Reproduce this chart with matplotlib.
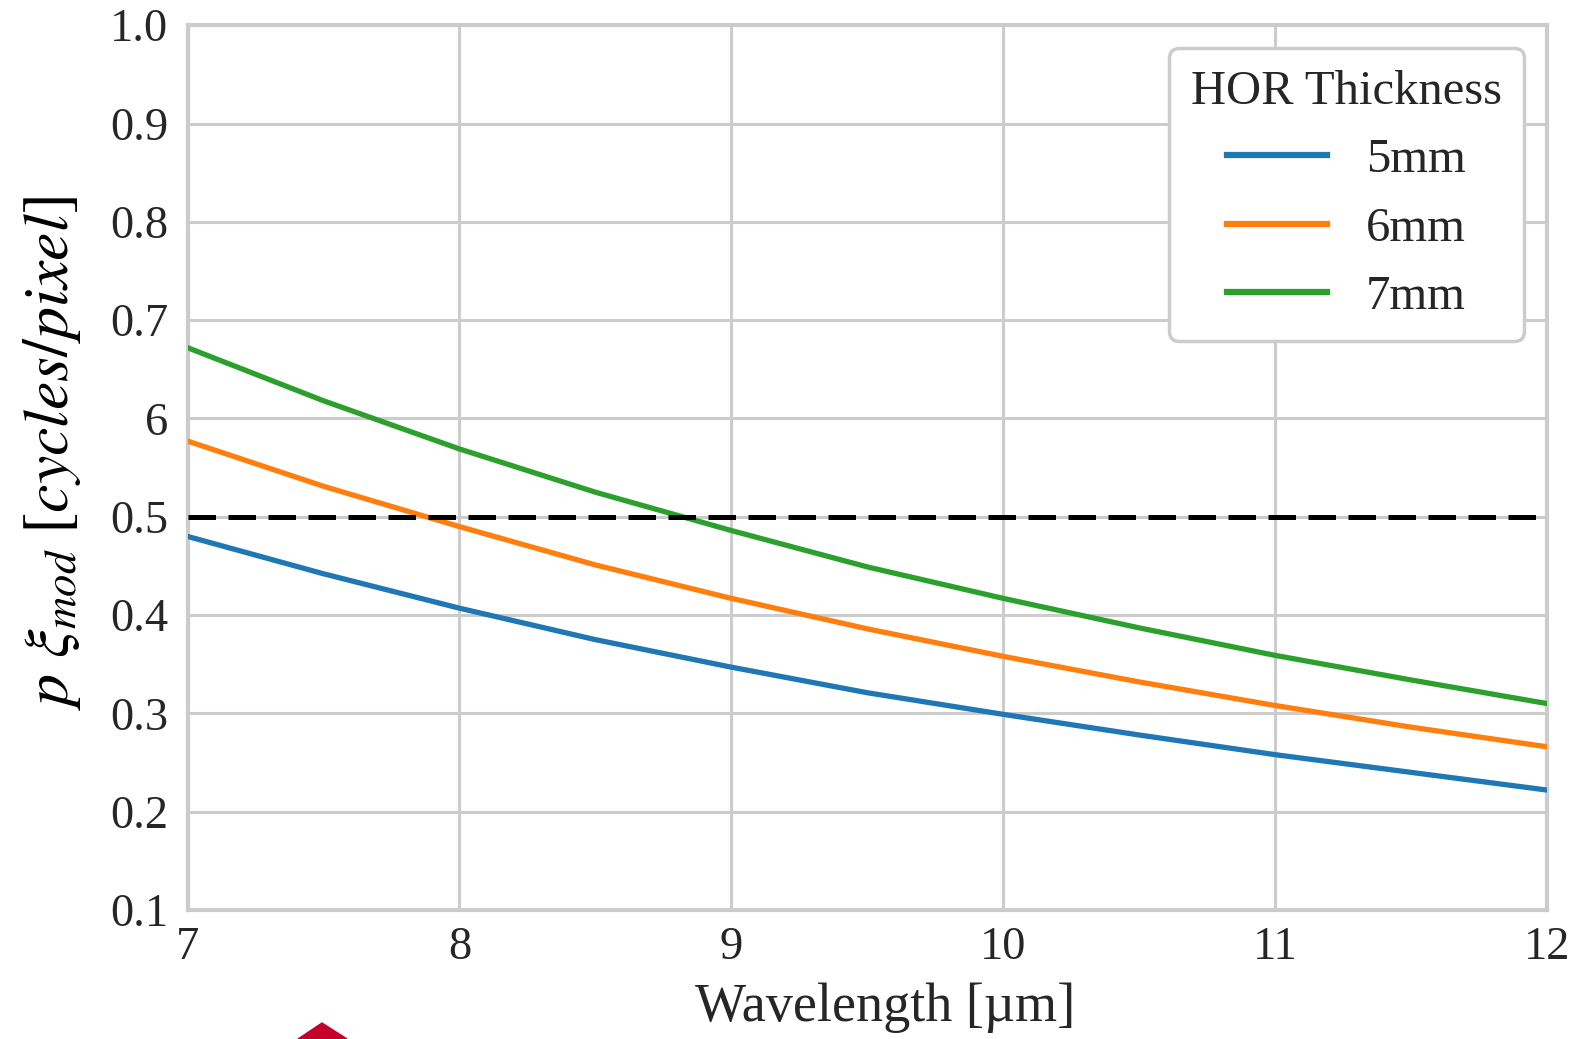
#!/usr/bin/env python3
# -*- coding: utf-8 -*-
"""
Modulation frequency vs wavelength for three HOR thicknesses
"""

import matplotlib
matplotlib.use('Agg')
import matplotlib.pyplot as plt
from matplotlib.patches import Polygon

plt.rcParams['font.family'] = ['Liberation Serif', 'DejaVu Serif']
plt.rcParams['mathtext.fontset'] = 'stix'

# wavelength in um
wavelength = [7.0, 7.5, 8.0, 8.5, 9.0, 9.5, 10.0, 10.5, 11.0, 11.5, 12.0]

# values
hor_5mm = [0.480, 0.442, 0.407, 0.375, 0.347, 0.321, 0.299, 0.278, 0.258, 0.240, 0.222]
hor_6mm = [0.577, 0.531, 0.490, 0.451, 0.417, 0.386, 0.358, 0.332, 0.308, 0.286, 0.266]
hor_7mm = [0.672, 0.618, 0.569, 0.525, 0.486, 0.449, 0.417, 0.387, 0.359, 0.334, 0.310]

series_labels = ['5mm', '6mm', '7mm']
series_colors = ['#1f77b4', '#ff7f0e', '#2ca02c']

x_ticks = [7, 8, 9, 10, 11, 12]
y_ticks = [0.1, 0.2, 0.3, 0.4, 0.5, 0.6, 0.7, 0.8, 0.9, 1.0]
y_tick_labels = ['0.1', '0.2', '0.3', '0.4', '0.5', '6', '0.7', '0.8', '0.9', '1.0']
threshold = 0.5

GRID = '#cccccc'
TEXT = '#262626'

fig = plt.figure(figsize=(15.8, 10.39), dpi=100)
ax = fig.add_axes([0.1187, 0.1242, 0.979 - 0.1187, 0.9757 - 0.1242])

for vals, lab, col in zip([hor_5mm, hor_6mm, hor_7mm], series_labels, series_colors):
    ax.plot(wavelength, vals, color=col, linewidth=3.8, label=lab, zorder=3,
            solid_joinstyle='round')

ax.axhline(threshold, color='black', linestyle=(0, (5.5, 2.5)), linewidth=3.6, zorder=4)

ax.set_xlim(7, 12)
ax.set_ylim(0.1, 1.0)
ax.set_xticks(x_ticks)
ax.set_xticklabels([str(t) for t in x_ticks])
ax.set_yticks(y_ticks)
ax.set_yticklabels(y_tick_labels)

ax.grid(True, color=GRID, linewidth=2.2)
ax.set_axisbelow(True)
for sp in ax.spines.values():
    sp.set_color(GRID)
    sp.set_linewidth(3)

ax.tick_params(axis='both', length=0, labelsize=33.5, colors=TEXT)
ax.tick_params(axis='y', pad=14)
ax.tick_params(axis='x', pad=12)

ax.set_xlabel('Wavelength [µm]', fontsize=39, color=TEXT)
ax.xaxis.set_label_coords(0.513, -0.082)
ax.set_ylabel(r'$p\ \xi_{mod}\ [cycles/pixel]$', fontsize=46, color='black')
ax.yaxis.set_label_coords(-0.077, 0.516)

leg = ax.legend(title='HOR Thickness', loc='upper right', fontsize=35, title_fontsize=35,
                handlelength=2.05, handletextpad=0.8, borderpad=0.45, labelspacing=0.5,
                borderaxespad=0, framealpha=1.0, fancybox=True,
                bbox_to_anchor=(0.983, 0.974))
leg.get_frame().set_edgecolor(GRID)
leg.get_frame().set_linewidth(2.5)
for t in leg.get_texts():
    t.set_color(TEXT)
leg.get_title().set_color(TEXT)
for h in leg.get_lines():
    h.set_linewidth(4.5)

# small red marker cut off at the bottom edge of the picture
fig.patches.append(Polygon([[298 / 1580, 0], [322 / 1580, 16 / 1039], [347 / 1580, 0]],
                           closed=True, transform=fig.transFigure, color='#c4002b'))

fig.savefig('out.png', dpi=100)
